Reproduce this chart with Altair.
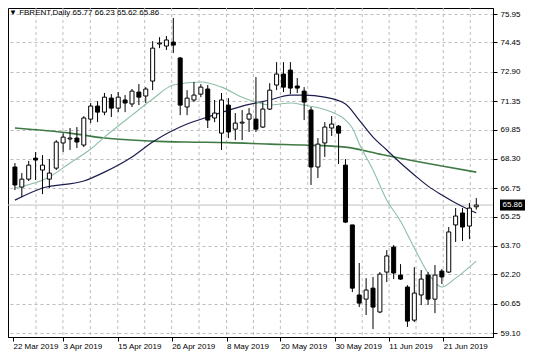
import altair as alt
import pandas as pd

# ---- candles (daily OHLC) ----
opens  = [67.87,66.81,67.23,68.34,67.71,67.23,67.81,69.14,69.35,69.40,69.03,70.40,71.09,70.77,71.51,70.98,71.41,71.20,71.83,71.62,
          72.41,74.37,74.26,74.47,73.63,71.04,71.41,71.72,71.99,70.46,69.66,71.14,69.87,70.19,70.40,70.40,69.98,70.93,72.20,72.78,
          72.99,72.15,71.88,70.88,67.87,69.14,69.93,70.03,67.97,64.81,61.11,60.89,61.47,60.21,62.32,63.64,62.16,61.53,59.78,61.11,
          62.16,60.89,62.37,62.32,64.81,65.44,64.75,65.77]
highs  = [68.08,67.55,68.19,68.66,68.50,68.29,69.29,69.66,69.93,69.98,70.56,71.25,71.35,71.78,71.72,71.83,71.67,71.99,72.25,72.09,
          74.52,74.73,74.79,75.74,73.68,71.93,72.36,72.25,72.20,71.41,71.78,71.51,70.72,70.88,70.98,72.62,71.30,72.30,73.41,73.41,
          73.41,72.57,72.09,71.04,69.40,70.24,70.56,70.09,68.29,64.81,62.80,62.00,62.06,62.32,63.48,63.75,62.74,61.63,62.58,62.43,
          62.32,62.69,62.48,64.70,65.70,65.70,65.97,66.23]
lows   = [66.65,66.28,67.13,67.18,66.44,66.76,67.71,68.66,68.77,68.87,68.92,70.19,70.24,70.61,70.51,70.77,70.77,71.04,71.14,71.25,
          71.93,74.15,74.05,73.89,70.61,70.61,71.30,71.56,69.93,70.24,68.77,69.40,69.29,69.29,69.72,69.72,69.93,70.88,71.93,71.83,
          71.72,71.78,70.35,66.92,67.29,68.40,69.51,68.03,64.91,61.26,60.47,60.05,59.31,60.15,61.79,61.95,61.90,59.42,59.68,60.58,
          60.58,60.15,61.69,62.27,63.91,63.96,64.06,65.62]
closes = [66.92,67.23,67.97,68.24,67.97,67.55,69.19,69.45,69.40,69.19,70.46,71.09,70.77,71.56,70.98,71.56,71.25,71.88,71.56,71.99,
          74.15,74.42,74.58,74.31,71.14,71.51,71.67,72.09,70.35,70.72,71.41,69.72,70.19,70.24,70.67,69.87,70.93,71.93,72.78,72.09,
          72.04,72.04,71.30,67.87,69.08,69.98,70.14,69.66,64.96,61.47,60.68,61.37,60.47,62.21,63.17,62.27,61.95,59.73,61.21,61.95,
          60.89,62.16,62.06,64.44,65.28,64.70,65.70,65.86]

# ---- moving averages (bar index, value) ----
fast_idx = [0, 5, 8, 11, 13, 17, 20, 23, 27, 30, 33, 35, 37, 40, 42, 46, 48, 49, 50, 52, 54, 56, 58, 60, 62, 64, 67]
fast_val = [66.76, 67.34, 68.08, 68.82, 69.45, 70.61, 71.46, 72.20, 72.36, 72.09, 71.56, 71.30, 71.14, 71.25, 71.14, 70.77,
            70.35, 69.93, 69.10, 67.71, 66.12, 65.01, 63.59, 62.27, 61.53, 62.00, 62.90]
mid_idx = [0, 4, 10, 13, 17, 20, 25, 28, 33, 37, 40, 42, 45, 48, 50, 52, 54, 56, 58, 60, 62, 64, 67]
mid_val = [66.12, 66.76, 67.13, 67.60, 68.40, 69.19, 70.14, 70.51, 71.09, 71.41, 71.67, 71.67, 71.56, 71.20, 70.35, 69.45,
           68.77, 68.08, 67.45, 66.86, 66.39, 65.97, 65.44]
slow_idx = [0, 8, 13, 20, 25, 31, 37, 42, 48, 53, 58, 62, 67]
slow_val = [69.93, 69.66, 69.40, 69.24, 69.19, 69.16, 69.08, 69.03, 68.92, 68.55, 68.19, 67.92, 67.60]

# ---- axes ----
y_ticks = [75.95, 74.45, 72.90, 71.35, 69.85, 68.30, 66.75, 65.25, 63.70, 62.20, 60.65, 59.10]
x_label_pos = [-0.28, 6.97, 14.94, 22.76, 30.73, 38.55, 46.5, 54.3, 62.2]
x_labels = ["22 Mar 2019", "3 Apr 2019", "15 Apr 2019", "26 Apr 2019", "8 May 2019",
            "20 May 2019", "30 May 2019", "11 Jun 2019", "21 Jun 2019"]
x_grid_pos = [3.06, 6.97, 10.95, 14.94, 18.85, 22.76, 26.74, 30.73, 34.64, 38.55, 42.53,
              46.5, 50.43, 54.34, 58.25, 62.2, 66.13]

title_text = "\u25bc FBRENT,Daily  65.77 66.23 65.62 65.86"
last_price = [65.86]

FONT = "Liberation Sans"
GRID = "#bdbdbd"

candles = pd.DataFrame({"i": list(range(len(opens))), "o": opens, "h": highs, "l": lows, "c": closes})
fast = pd.DataFrame({"i": fast_idx, "v": fast_val})
mid = pd.DataFrame({"i": mid_idx, "v": mid_val})
slow = pd.DataFrame({"i": slow_idx, "v": slow_val})
grid = pd.DataFrame({"g": x_grid_pos})
price = pd.DataFrame({"p": last_price})

xscale = alt.Scale(domain=[-0.28, 68.7], nice=False, zero=False)
yscale = alt.Scale(domain=[58.89, 76.27], nice=False, zero=False)

label_expr = "[" + ",".join("'%s'" % s for s in x_labels) + "][indexof([" + ",".join(str(v) for v in x_label_pos) + "], datum.value)]"

xaxis = alt.Axis(values=x_label_pos, labelExpr=label_expr, grid=False, title=None,
                 domain=True, domainColor="black", ticks=True, tickColor="black", tickSize=4,
                 labelAlign="left", labelFont=FONT, labelFontSize=8, labelColor="black",
                 labelPadding=1, labelOverlap=False, labelBound=False, labelFlush=False)
yaxis = alt.Axis(values=y_ticks, orient="right", format=".2f", title=None,
                 grid=True, gridColor=GRID, gridDash=[3, 3], gridWidth=1,
                 domain=True, domainColor="black", ticks=True, tickColor="black", tickSize=4,
                 labelAlign="left", labelFont=FONT, labelFontSize=8, labelColor="black",
                 labelPadding=3, labelOverlap=False, labelBound=False)


def X(f):
    return alt.X(f, type="quantitative", scale=xscale, axis=xaxis)


def Y(f):
    return alt.Y(f, type="quantitative", scale=yscale, axis=yaxis)


vgrid = alt.Chart(grid).mark_rule(color=GRID, strokeDash=[3, 3], strokeWidth=1).encode(x=X("g"))

price_line = alt.Chart(price).mark_rule(color="#c0c0c0", strokeWidth=1).encode(y=Y("p"))

slow_line = alt.Chart(slow).mark_line(color="#3f7a45", strokeWidth=1.6, interpolate="monotone", clip=True).encode(
    x=X("i"), y=Y("v"))
mid_line = alt.Chart(mid).mark_line(color="#1c1c4e", strokeWidth=1.2, interpolate="monotone", clip=True).encode(
    x=X("i"), y=Y("v"))
fast_line = alt.Chart(fast).mark_line(color="#8dbfa6", strokeWidth=1.1, interpolate="monotone", clip=True).encode(
    x=X("i"), y=Y("v"))

wicks = alt.Chart(candles).mark_rule(color="black", strokeWidth=1, clip=True).encode(
    x=X("i"), y=Y("l"), y2="h")
bodies = alt.Chart(candles).mark_bar(width=4, stroke="black", strokeWidth=1, clip=True).encode(
    x=X("i"), y=Y("o"), y2="c",
    fill=alt.condition("datum.c >= datum.o", alt.value("white"), alt.value("black")))

box = alt.Chart(price).transform_calculate(lo="datum.p - 0.29", hi="datum.p + 0.29").mark_rect(
    color="black").encode(x=alt.value(492), x2=alt.value(517), y=Y("lo"), y2="hi")
box_text = alt.Chart(price).mark_text(color="white", font=FONT, fontSize=8, align="center",
                                      baseline="middle").encode(
    x=alt.value(504.5), y=Y("p"), text=alt.Text("p:Q", format=".2f"))

title = alt.Chart(price).mark_text(color="black", font=FONT, fontSize=8, align="left",
                                   baseline="middle", text=title_text).encode(
    x=alt.value(1), y=alt.value(5))

chart = alt.layer(vgrid, price_line, slow_line, mid_line, fast_line, wicks, bodies, box, box_text, title).properties(
    width=485, height=329,
    autosize=alt.AutoSizeParams(type="none"),
    padding={"left": 0, "top": 0, "right": 35, "bottom": 14},
    background="white",
).configure_view(stroke="black", strokeWidth=1)

chart.save("out.html", embed_options={"renderer": "svg", "actions": False})
